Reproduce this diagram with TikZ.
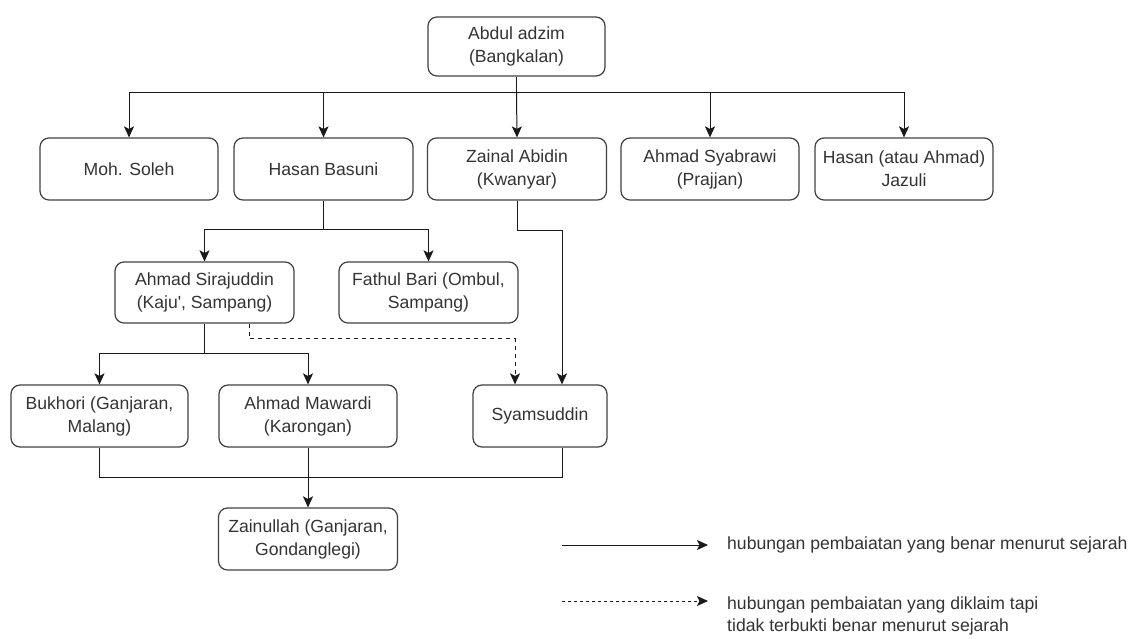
\documentclass[tikz,border=0pt]{standalone}
\usepackage{fontspec}
\setmainfont{Liberation Sans}[Ligatures=TeXOff]
\usetikzlibrary{arrows.meta}
\begin{document}
\begin{tikzpicture}[x=1pt,y=-1pt,
  box/.style={draw=black!75, line width=1.2pt, rounded corners=9pt, align=center,
    inner sep=0pt, text=black!80, font=\fontsize{17.6}{23}\selectfont},
  conn/.style={draw=black!90, line width=1pt, -{Stealth[length=11pt,width=10pt,inset=2.5pt]}},
  plain/.style={draw=black!90, line width=1pt},
  claim/.style={conn, dash pattern=on 4pt off 4pt},
  legtext/.style={align=left, anchor=west, inner sep=0pt, text=black!80, font=\fontsize{17.6}{22}\selectfont}]
\useasboundingbox (0,0) rectangle (1141,639);

% nodes
\node[box, minimum width=177pt, minimum height=59pt] (abdul) at (516.5,46.5) {Abdul adzim\\(Bangkalan)};
\node[box, minimum width=178pt, minimum height=62pt] (moh) at (129,169) {Moh. Soleh};
\node[box, minimum width=179pt, minimum height=62pt] (hasan) at (323.5,169) {Hasan Basuni};
\node[box, minimum width=179pt, minimum height=62pt] (zainal) at (517,169) {Zainal Abidin\\(Kwanyar)};
\node[box, minimum width=178pt, minimum height=62pt] (syab) at (710,169) {Ahmad Syabrawi\\(Prajjan)};
\node[box, minimum width=178pt, minimum height=62pt] (jaz) at (904,169) {Hasan (atau Ahmad)\\Jazuli};
\node[box, minimum width=179pt, minimum height=61pt] (siraj) at (204.5,292.5) {Ahmad Sirajuddin\\(Kaju', Sampang)};
\node[box, minimum width=179pt, minimum height=61pt] (fathul) at (428.5,292.5) {Fathul Bari (Ombul,\\Sampang)};
\node[box, minimum width=177pt, minimum height=62pt] (bukh) at (99.5,416) {Bukhori (Ganjaran,\\Malang)};
\node[box, minimum width=178pt, minimum height=62pt] (maw) at (308,416) {Ahmad Mawardi\\(Karongan)};
\node[box, minimum width=134pt, minimum height=62pt] (syam) at (540,416) {Syamsuddin};
\node[box, minimum width=179pt, minimum height=62pt] (zain) at (308,539) {Zainullah (Ganjaran,\\Gondanglegi)};

% junctions
\coordinate (j1) at (516.5,93);
\coordinate (j2) at (323.5,230);
\coordinate (j3) at (204.5,353);
\coordinate (j4) at (308,477);
\coordinate (sirajR) at ([xshift=44.5pt]siraj.south);
\coordinate (syamL) at ([xshift=-25pt]syam.north);
\coordinate (syamR) at ([xshift=22pt]syam.north);
\coordinate (syamRb) at ([xshift=22pt]syam.south);

% connectors
\draw[plain] (abdul.south) -- (j1);
\draw[conn] (j1) -| (moh.north);
\draw[conn] (j1) -| (hasan.north);
\draw[conn] (j1) -- (zainal.north);
\draw[conn] (j1) -| (syab.north);
\draw[conn] (j1) -| (jaz.north);

\draw[plain] (hasan.south) -- (j2);
\draw[conn] (j2) -| (siraj.north);
\draw[conn] (j2) -| (fathul.north);

\draw[conn] (zainal.south) -- ++(0,30) -| (syamR);
\draw[claim] (sirajR) -- ++(0,15) -| (syamL);

\draw[plain] (siraj.south) -- (j3);
\draw[conn] (j3) -| (bukh.north);
\draw[conn] (j3) -| (maw.north);

\draw[plain] (bukh.south) |- (j4);
\draw[plain] (syamRb) |- (j4);
\draw[conn] (maw.south) -- (zain.north);

% legend
\coordinate (l1a) at (562,545);
\coordinate (l1b) at (708,545);
\coordinate (l2a) at (562,601);
\coordinate (l2b) at (708,601);
\draw[conn] (l1a) -- (l1b);
\draw[conn, dash pattern=on 3pt off 3pt] (l2a) -- (l2b);
\node[legtext] (leg1) at (727,545) {hubungan pembaiatan yang benar menurut sejarah};
\node[legtext] (leg2) at (727,616) {hubungan pembaiatan yang diklaim tapi\\tidak terbukti benar menurut sejarah};
\end{tikzpicture}
\end{document}
